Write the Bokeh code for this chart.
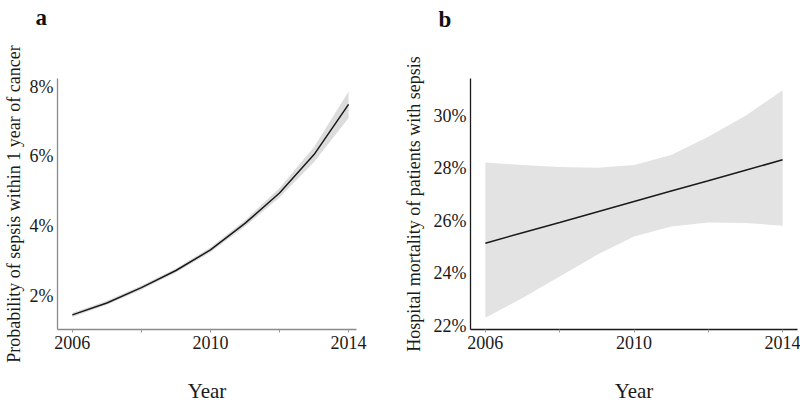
from bokeh.plotting import figure
from bokeh.layouts import row
from bokeh.models import ColumnDataSource, FixedTicker, PrintfTickFormatter, Range1d, Title
from bokeh.embed import file_html
from bokeh.resources import INLINE

# ---- data ----
years = [2006, 2007, 2008, 2009, 2010, 2011, 2012, 2013, 2014]

# panel a: probability of sepsis within 1 year of cancer (%)
prob_fit = [1.46, 1.80, 2.24, 2.73, 3.32, 4.08, 4.95, 6.05, 7.49]
prob_lo = [1.40, 1.75, 2.18, 2.67, 3.25, 3.99, 4.82, 5.84, 7.10]
prob_hi = [1.52, 1.86, 2.30, 2.79, 3.39, 4.17, 5.09, 6.27, 7.86]

# panel b: hospital mortality of patients with sepsis (%)
mort_fit = [25.14, 25.54, 25.93, 26.33, 26.73, 27.13, 27.52, 27.92, 28.32]
mort_lo = [22.30, 23.05, 23.87, 24.69, 25.40, 25.78, 25.93, 25.91, 25.81]
mort_hi = [28.22, 28.12, 28.05, 28.02, 28.12, 28.50, 29.20, 30.00, 30.97]

x_ticks = [2006, 2010, 2014]
x_minor = [2008, 2012]
a_ticks = [2, 4, 6, 8]
b_ticks = [22, 24, 26, 28, 30]

FONT = "Liberation Serif"


def style(p, axis_color, ylabel, yticks, ylabel_standoff):
    p.outline_line_color = None
    p.xgrid.grid_line_color = None
    p.ygrid.grid_line_color = None
    p.background_fill_color = "white"
    p.border_fill_color = "white"
    p.xaxis.ticker = FixedTicker(ticks=x_ticks, minor_ticks=x_minor)
    p.yaxis.ticker = FixedTicker(ticks=yticks)
    p.yaxis.formatter = PrintfTickFormatter(format="%d%%")
    for ax in (p.xaxis, p.yaxis):
        ax.axis_line_color = axis_color
        ax.axis_line_width = 1.3
        ax.major_label_text_font = FONT
        ax.axis_label_text_font = FONT
        ax.axis_label_text_font_style = "normal"
        ax.major_label_text_color = "#1a1a1a"
        ax.axis_label_text_color = "#1a1a1a"
        ax.major_label_text_font_size = "18px"
    p.xaxis.major_tick_in = 0
    p.xaxis.major_tick_out = 3
    p.xaxis.minor_tick_in = 0
    p.xaxis.minor_tick_out = 3
    p.xaxis.major_tick_line_color = "#999999"
    p.xaxis.minor_tick_line_color = "#999999"
    p.xaxis.major_label_standoff = 3
    p.xaxis.axis_label = "Year"
    p.xaxis.axis_label_text_font_size = "21px"
    p.xaxis.axis_label_standoff = 27
    p.yaxis.major_tick_in = 0
    p.yaxis.major_tick_out = 0
    p.yaxis.minor_tick_line_color = None
    p.yaxis.major_label_standoff = 4
    p.yaxis.axis_label = ylabel
    p.yaxis.axis_label_text_font_size = "18px"
    p.yaxis.axis_label_standoff = ylabel_standoff


def panel_letter(p, letter, offset, gap):
    # panel letter as the outer title, with a spacer title between it and the frame
    p.title.text = letter
    p.title.text_font = FONT
    p.title.text_font_size = "23px"
    p.title.text_font_style = "bold"
    p.title.text_color = "#111111"
    p.title.align = "left"
    p.title.offset = offset
    p.title.standoff = 0
    p.add_layout(Title(text=" ", text_font_size="10px", standoff=gap), "above")


# ---- panel a ----
src_a = ColumnDataSource(dict(x=years, y=prob_fit, lo=prob_lo, hi=prob_hi))
pa = figure(width=400, height=405, output_backend="svg", toolbar_location=None,
            x_range=Range1d(2005.57, 2014.23), y_range=Range1d(1.04, 8.23),
            min_border_left=53, min_border_right=44, min_border_top=78,
            min_border_bottom=73)
pa.varea(x="x", y1="lo", y2="hi", source=src_a, fill_color="#dcdcdc")
pa.line(x="x", y="y", source=src_a, line_color="#1a1a1a", line_width=1.5)
style(pa, "#8a8a8a", "Probability of sepsis within 1 year of cancer", a_ticks, 3)
panel_letter(pa, "a", -22, 36)

# ---- panel b ----
src_b = ColumnDataSource(dict(x=years, y=mort_fit, lo=mort_lo, hi=mort_hi))
pb = figure(width=400, height=405, output_backend="svg", toolbar_location=None,
            x_range=Range1d(2005.6, 2014.4), y_range=Range1d(21.85, 31.42),
            min_border_left=66, min_border_right=3, min_border_top=76,
            min_border_bottom=73)
pb.varea(x="x", y1="lo", y2="hi", source=src_b, fill_color="#e3e3e3")
pb.line(x="x", y="y", source=src_b, line_color="#1a1a1a", line_width=1.5)
style(pb, "#1a1a1a", "Hospital mortality of patients with sepsis", b_ticks, 7)
panel_letter(pb, "b", -32, 34)

layout = row(pa, pb)
open("out.html", "w").write(file_html(layout, INLINE))
